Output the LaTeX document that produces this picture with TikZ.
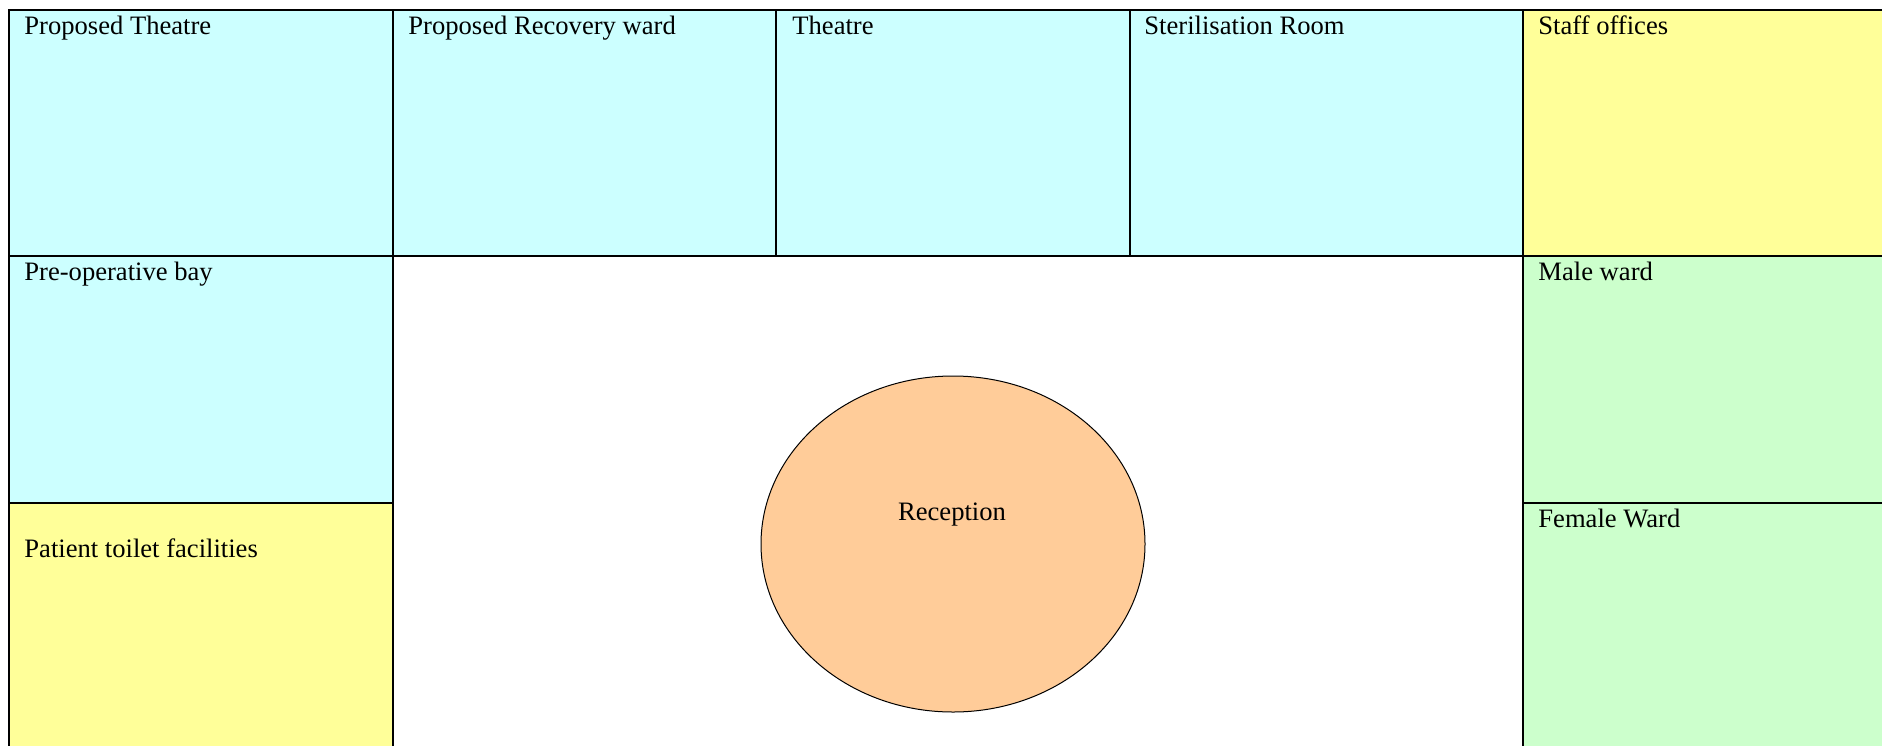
\documentclass[tikz,border=0pt]{standalone}
\usepackage{fontspec}
\setmainfont{Liberation Serif}
\usetikzlibrary{calc}
\definecolor{roomcyan}{HTML}{CCFFFF}
\definecolor{roomyellow}{HTML}{FFFF99}
\definecolor{roomgreen}{HTML}{CCFFCC}
\definecolor{roomorange}{HTML}{FFCC99}
\begin{document}
\begin{tikzpicture}[x=0.5pt,y=-0.5pt,
  room/.style={draw=black,line width=1pt},
  lbl/.style={anchor=base west,inner sep=0pt,font=\fontsize{13.3}{16}\selectfont},
  hub/.style={draw=black,line width=0.5pt,fill=roomorange}]
\useasboundingbox (0,0) rectangle (1882,745);
\clip (0,0) rectangle (1882,745);
\fill[white] (0,0) rectangle (1882,745);
% top row
\path[room,fill=roomcyan] (9,10) rectangle (393,256);
\path[room,fill=roomcyan] (393,10) rectangle (776,256);
\path[room,fill=roomcyan] (776,10) rectangle (1130,256);
\path[room,fill=roomcyan] (1130,10) rectangle (1523,256);
\path[room,fill=roomyellow] (1523,10) rectangle (1900,256);
% left column
\path[room,fill=roomcyan] (9,256) rectangle (393,503);
\path[room,fill=roomyellow] (9,503) rectangle (393,760);
% right column
\path[room,fill=roomgreen] (1523,256) rectangle (1900,503);
\path[room,fill=roomgreen] (1523,503) rectangle (1900,760);
% reception
\path[hub] (953,544) ellipse [x radius=192,y radius=168];
% labels
\node[lbl] (t1) at (24,34) {Proposed Theatre};
\node[lbl] (t2) at (408,34) {Proposed Recovery ward};
\node[lbl] (t3) at (792,34) {Theatre};
\node[lbl] (t4) at (1144,34) {Sterilisation Room};
\node[lbl] (t5) at (1538,34) {Staff offices};
\node[lbl] (t6) at (24,280) {Pre-operative bay};
\node[lbl] (t7) at (24,557) {Patient toilet facilities};
\node[lbl] (t8) at (1538,280) {Male ward};
\node[lbl] (t9) at (1538,527) {Female Ward};
\node[anchor=base,inner sep=0pt,font=\fontsize{13.3}{16}\selectfont] (rc) at (952,520) {Reception};
\end{tikzpicture}
\end{document}
